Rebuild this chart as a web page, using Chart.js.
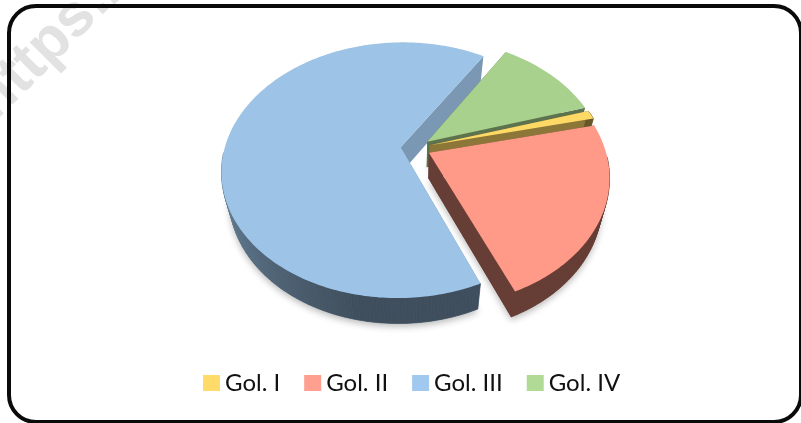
<!DOCTYPE html>
<html><head><meta charset="utf-8">
<style>html,body{margin:0;padding:0;background:#fff}canvas{display:block}</style>
<script src="https://cdn.jsdelivr.net/npm/chart.js@4"></script>
</head><body>
<canvas id="c" width="801" height="423"></canvas>
<script>
const categories = ["Gol. I", "Gol. II", "Gol. III", "Gol. IV"];
const seriesValues = [1.1, 22.2, 65.3, 11.4];
const sliceColors = ["#ffd966", "#ff9a88", "#9dc3e6", "#a9d18e"];
const legendColors = ["#ffdc69", "#ff9f90", "#a1c9f0", "#b1da96"];
const wallShades = [0.55, 0.40, 0.78, 0.55];
const drawOrder = [2, 3, 0, 1];

const PROJ = {a: 176, b: 124, k: 0.18, depth: 25.5, lowX: 0.96};

function shade(hex, f) {
  const n = parseInt(hex.slice(1), 16);
  const c = [n >> 16, (n >> 8) & 255, n & 255].map(v => Math.round(v * f));
  return `rgb(${c[0]},${c[1]},${c[2]})`;
}
function outerShade(phi) {
  let t = ((phi * 180 / Math.PI) + 90 + 720) % 360;
  t = Math.max(0, Math.min(1, (t - 190) / 90));
  return 0.40 + 0.35 * t;
}
function project(arc, ux, uy, low) {
  const w = 1 - PROJ.k * uy;
  const sx = low ? PROJ.lowX : 1;
  return [arc.x + sx * PROJ.a * ux / w, arc.y + PROJ.b * uy / w + (low ? PROJ.depth : 0)];
}
function poly(ctx, pts) {
  ctx.beginPath();
  pts.forEach((p, i) => i ? ctx.lineTo(p[0], p[1]) : ctx.moveTo(p[0], p[1]));
  ctx.closePath();
}
function drawSlice(ctx, arc, color, wallShade) {
  const R = arc.outerRadius, off = arc.options.offset / R;
  const mid = (arc.startAngle + arc.endAngle) / 2;
  const ox = Math.cos(mid) * off, oy = Math.sin(mid) * off;
  const n = Math.max(2, Math.ceil((arc.endAngle - arc.startAngle) * 180 / Math.PI));
  const rim = [];
  for (let i = 0; i <= n; i++) {
    const p = arc.startAngle + (arc.endAngle - arc.startAngle) * i / n;
    rim.push([ox + Math.cos(p), oy + Math.sin(p), p]);
  }
  const top = rim.map(r => project(arc, r[0], r[1], false));
  const low = rim.map(r => project(arc, r[0], r[1], true));
  const aT = project(arc, ox, oy, false), aL = project(arc, ox, oy, true);

  ctx.save();
  ctx.shadowColor = "rgba(0,0,0,0.28)";
  ctx.shadowBlur = 7;
  ctx.shadowOffsetY = 3;
  ctx.fillStyle = shade(color, wallShade);
  const frontLow = rim.map((r, i) => Math.sin(r[2]) > 0.05 ? low[i] : null).filter(Boolean);
  poly(ctx, frontLow.length > 1 ? [aL].concat(frontLow) : [aL].concat(low));
  ctx.fill();
  ctx.restore();

  const wall = shade(color, wallShade);
  [0, n].forEach(i => {
    ctx.fillStyle = wall;
    poly(ctx, [aT, top[i], low[i], aL]);
    ctx.fill();
  });
  for (let i = 0; i < n; i++) {
    if (Math.sin(rim[i][2]) < 0.05 && Math.sin(rim[i + 1][2]) < 0.05 && n > 10) continue;
    const col = shade(color, outerShade(rim[i][2]));
    ctx.fillStyle = col; ctx.strokeStyle = col; ctx.lineWidth = 0.6;
    poly(ctx, [top[i], top[i + 1], low[i + 1], low[i]]);
    ctx.fill(); ctx.stroke();
  }
  ctx.fillStyle = color;
  poly(ctx, [aT].concat(top));
  ctx.fill();
}

const pie3d = {
  id: "pie3d",
  beforeDraw(chart) {
    const ctx = chart.ctx;
    ctx.save();
    ctx.fillStyle = "#fff";
    ctx.fillRect(0, 0, chart.width, chart.height);
    ctx.translate(-5, 122);
    ctx.rotate(-Math.PI / 4);
    ctx.fillStyle = "#e2e2e2";
    ctx.font = "bold 60px 'Liberation Sans'";
    ctx.fillText("https://", 0, 0);
    ctx.restore();
    ctx.save();
    ctx.strokeStyle = "#0a0a0a";
    ctx.lineWidth = 4;
    ctx.beginPath();
    ctx.roundRect(9, 6, 792, 416, 27);
    ctx.stroke();
    ctx.restore();
  },
  beforeDatasetDraw(chart, args) {
    const ctx = chart.ctx, meta = chart.getDatasetMeta(args.index);
    drawOrder.forEach(i => drawSlice(ctx, meta.data[i], sliceColors[i], wallShades[i]));
    return false;
  },
  afterDraw(chart) {
    const ctx = chart.ctx;
    ctx.save();
    ctx.font = "24px Lato";
    ctx.textBaseline = "alphabetic";
    let x = 203;
    categories.forEach((label, i) => {
      ctx.fillStyle = legendColors[i];
      ctx.fillRect(x, 375, 17, 16);
      ctx.fillStyle = "#111";
      ctx.fillText(label, x + 22, 391);
      x += 22 + ctx.measureText(label).width + 24;
    });
    ctx.restore();
  }
};

new Chart(document.getElementById("c"), {
  type: "pie",
  data: {
    labels: categories,
    datasets: [{data: seriesValues, backgroundColor: sliceColors, borderWidth: 0, offset: 12}]
  },
  options: {
    responsive: false,
    animation: false,
    rotation: 73,
    layout: {padding: {left: 30, top: 0, right: 0, bottom: 127}},
    plugins: {legend: {display: false}, tooltip: {enabled: false}}
  },
  plugins: [pie3d]
});
</script>
</body></html>
